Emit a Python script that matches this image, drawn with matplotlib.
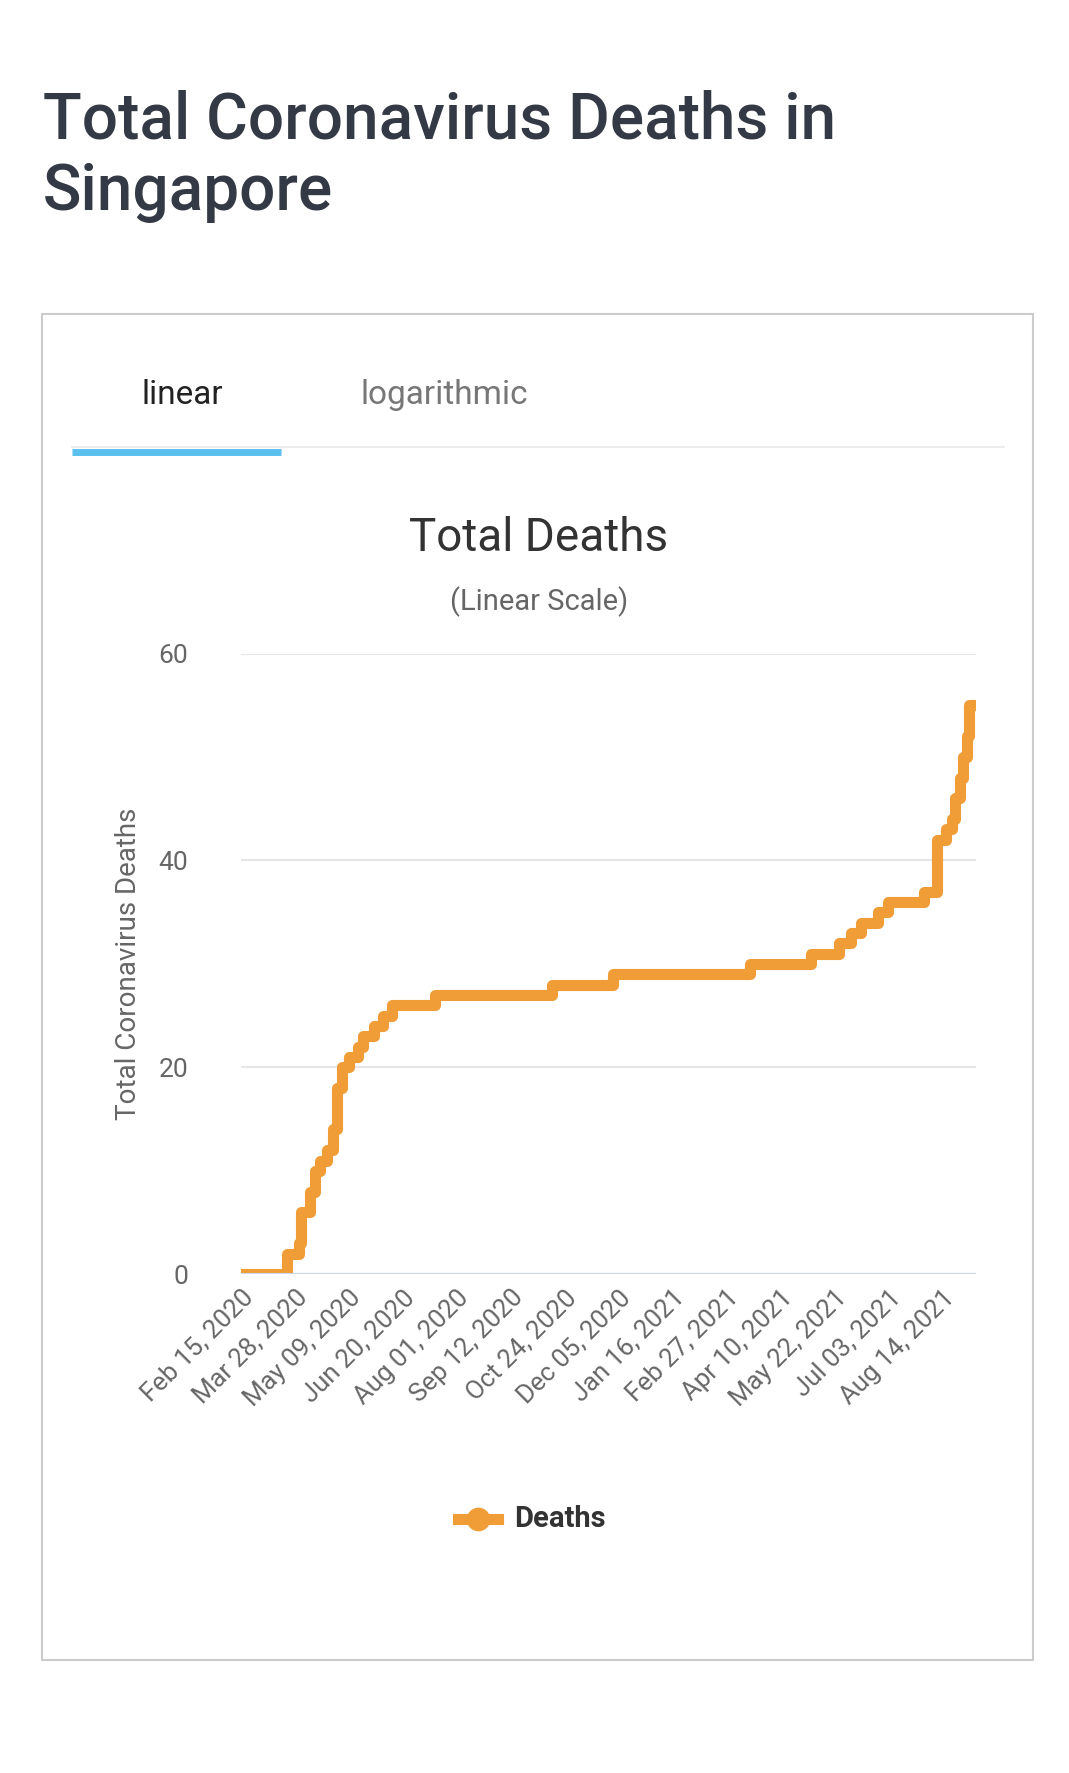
import matplotlib
matplotlib.use('Agg')
import matplotlib.pyplot as plt
import pandas as pd

# step dates and cumulative deaths
dates = ['2020-02-15', '2020-03-22', '2020-03-31', '2020-04-02', '2020-04-09', '2020-04-13',
         '2020-04-17', '2020-04-22', '2020-04-27', '2020-04-30', '2020-05-04', '2020-05-09',
         '2020-05-16', '2020-05-20', '2020-05-29', '2020-06-05', '2020-06-12', '2020-07-15',
         '2020-10-14', '2020-12-01', '2021-03-17', '2021-05-04', '2021-05-26', '2021-06-04',
         '2021-06-12', '2021-06-25', '2021-07-03', '2021-07-31', '2021-08-10', '2021-08-17',
         '2021-08-22', '2021-08-24', '2021-08-28', '2021-08-30', '2021-09-02', '2021-09-04',
         '2021-09-09']
deaths = [0, 2, 3, 6, 8, 10, 11, 12, 14, 18, 20, 21, 22, 23, 24, 25, 26, 27,
          28, 29, 30, 31, 32, 33, 34, 35, 36, 37, 42, 43, 44, 46, 48, 50, 52, 55, 55]
tick_dates = pd.date_range('2020-02-15', periods=14, freq='42D')
y_ticks = [0, 20, 40, 60]

W, H = 950, 1568  # reference layout units
fig = plt.figure(figsize=(10.69, 17.73), dpi=100)
fx = lambda x: x / W
fy = lambda y: 1 - y / H

fig.text(fx(38), fy(107), 'Total Coronavirus Deaths in', fontsize=46, color='#343a45',
         weight='medium', va='center', family='Roboto')
fig.text(fx(38), fy(170), 'Singapore', fontsize=46, color='#343a45',
         weight='medium', va='center', family='Roboto')

fig.add_artist(plt.Rectangle((fx(37), fy(1468)), fx(918) - fx(37), fy(278) - fy(1468),
                             transform=fig.transFigure, fill=False, ec='#cccccc', lw=1.5))
fig.add_artist(plt.Line2D([fx(64), fx(892)], [fy(395), fy(395)], transform=fig.transFigure,
                          color='#e8e8e8', lw=1.2))
fig.add_artist(plt.Line2D([fx(64), fx(250)], [fy(400), fy(400)], transform=fig.transFigure,
                          color='#5bc0ee', lw=5, solid_capstyle='butt'))
fig.text(fx(162), fy(349), 'linear', fontsize=24, color='#222222', ha='center', va='center', family='Roboto')
fig.text(fx(395), fy(349), 'logarithmic', fontsize=24, color='#777777', ha='center', va='center', family='Roboto')

fig.text(fx(479), fy(476), 'Total Deaths', fontsize=33, color='#333333', ha='center', va='center', family='Roboto')
fig.text(fx(479), fy(532), '(Linear Scale)', fontsize=21, color='#666666', ha='center', va='center', family='Roboto')

ax = fig.add_axes([fx(214), fy(1127), fx(867) - fx(214), fy(578) - fy(1127)])
x = pd.to_datetime(dates)
ax.step(x, deaths, where='post', color='#f09d38', lw=8, solid_joinstyle='round')
ax.set_ylim(0, 60)
ax.set_xlim(x[0], x[-1])
ax.set_yticks(y_ticks)
ax.grid(axis='y', color='#e6e6e6', lw=1.5)
ax.axhline(0, color='#ccd6eb', lw=1.5)
ax.set_axisbelow(True)
for s in ax.spines.values():
    s.set_visible(False)
ax.set_xticks(tick_dates)
ax.set_xticklabels([d.strftime('%b %d, %Y') for d in tick_dates], rotation=45,
                   ha='right', rotation_mode='anchor', fontsize=18.5, color='#666666', family='Roboto')
ax.tick_params(axis='y', labelsize=19, labelcolor='#666666', length=0, pad=38)
ax.tick_params(axis='x', length=0, pad=8)
for lab in ax.get_yticklabels():
    lab.set_family('Roboto')
ax.set_ylabel('Total Coronavirus Deaths', fontsize=20, color='#666666', family='Roboto', labelpad=12)

fig.add_artist(plt.Line2D([fx(407), fx(443)], [fy(1343), fy(1343)], transform=fig.transFigure,
                          color='#f09d38', lw=8))
fig.add_artist(plt.Line2D([fx(425)], [fy(1343)], transform=fig.transFigure,
                          color='#f09d38', marker='o', markersize=16))
fig.text(fx(457), fy(1343), 'Deaths', fontsize=21, weight='bold', color='#333333', va='center', family='Roboto')

fig.savefig('out.png', dpi=100, facecolor='white')
